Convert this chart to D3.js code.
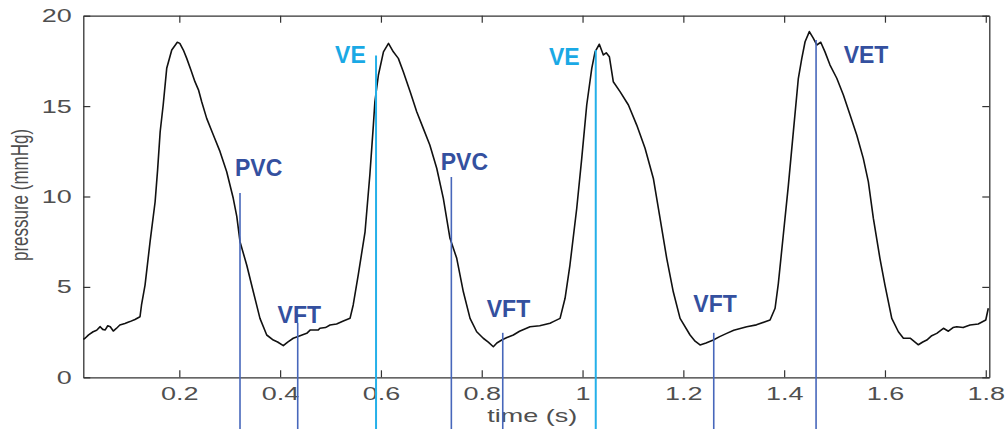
<!DOCTYPE html>
<html>
<head>
<meta charset="utf-8">
<script src="https://cdn.jsdelivr.net/npm/d3@7"></script>
<style>
  html, body { margin: 0; padding: 0; background: #fff; }
  svg { display: block; }
</style>
</head>
<body>
<svg id="chart" width="1006" height="429"></svg>
<script>
// ---- data ----
const times = [0.0095,0.013,0.020,0.029,0.036,0.043,0.048,0.053,0.058,0.063,0.069,0.075,0.082,0.092,0.102,0.112,0.122,0.125,0.132,0.142,0.152,0.157,0.162,0.168,0.175,0.185,0.196,0.201,0.208,0.2147,0.223,0.231,0.238,0.2444,0.2543,0.2675,0.2808,0.294,0.307,0.314,0.3204,0.3337,0.3468,0.360,0.3734,0.3865,0.395,0.4063,0.415,0.426,0.4395,0.4528,0.460,0.4758,0.479,0.490,0.499,0.512,0.5254,0.5387,0.545,0.555,0.5685,0.578,0.585,0.588,0.595,0.605,0.615,0.6246,0.6345,0.6444,0.658,0.671,0.684,0.697,0.7107,0.7238,0.737,0.7504,0.7635,0.7768,0.790,0.803,0.813,0.823,0.830,0.8397,0.850,0.8627,0.875,0.8958,0.915,0.9355,0.942,0.9554,0.9653,0.975,0.9885,0.9984,1.0083,1.0183,1.0248,1.0333,1.0413,1.047,1.0532,1.061,1.0744,1.091,1.1075,1.124,1.1405,1.1538,1.167,1.180,1.1935,1.2133,1.2233,1.2331,1.245,1.2595,1.272,1.286,1.300,1.3258,1.345,1.372,1.382,1.3885,1.3984,1.4083,1.4183,1.428,1.435,1.4415,1.45,1.458,1.4647,1.4726,1.481,1.491,1.5044,1.5175,1.5308,1.544,1.557,1.567,1.577,1.590,1.600,1.6135,1.6266,1.6366,1.65,1.6663,1.675,1.683,1.6928,1.7028,1.716,1.7258,1.735,1.7425,1.755,1.7688,1.785,1.800,1.805];
const pressure = [2.1,2.16,2.35,2.52,2.6,2.8,2.65,2.62,2.85,2.8,2.56,2.7,2.89,2.98,3.08,3.2,3.35,4.0,5.1,7.5,9.71,11.5,13.58,15.06,17.09,18.1,18.53,18.47,18.1,17.64,17.0,16.35,15.9,15.24,14.32,13.4,12.48,11.37,9.9,8.9,7.5,6.21,4.73,3.26,2.34,2.06,1.95,1.75,1.95,2.16,2.3,2.43,2.62,2.62,2.71,2.75,2.89,2.95,3.11,3.26,4.0,5.66,8.05,11.19,13.95,15.24,16.72,18.0,18.47,18.0,17.64,16.9,15.8,14.69,13.77,12.85,11.56,9.9,7.69,6.58,4.73,3.26,2.52,2.16,1.95,1.69,1.9,2.06,2.2,2.34,2.55,2.8,2.85,2.99,3.08,3.26,4.37,6.21,9.35,12.11,15.06,17.09,18.0,18.42,17.83,17.95,17.73,16.35,15.8,15.06,13.95,12.67,11.0,8.79,6.58,4.73,3.26,2.34,2.0,1.79,1.9,2.06,2.25,2.43,2.6,2.8,2.9,3.17,3.82,5.2,7.9,10.6,13.6,16.5,17.64,18.56,19.12,18.75,18.38,18.53,18.0,17.27,16.54,15.61,14.51,13.4,12.11,10.82,8.79,6.58,5.1,3.26,2.52,2.16,2.16,1.8,1.95,2.06,2.3,2.43,2.71,2.55,2.75,2.8,2.75,2.89,2.95,3.17,3.82];

const xTicks = [0.2,0.4,0.6,0.8,1.0,1.2,1.4,1.6,1.8];
const xTickLabels = ["0.2","0.4","0.6","0.8","1","1.2","1.4","1.6","1.8"];
const yTicks = [0,5,10,15,20];
const yTickLabels = ["0","5","10","15","20"];

const markerLabels = ["PVC","VFT","VE","PVC","VFT","VE","VFT","VET"];
const markerTimes  = [0.3204,0.4349,0.5903,0.7397,0.8417,1.0262,1.2603,1.4633];
const markerTops   = [10.19,3.01,17.8,11.08,2.46,18.1,2.46,18.66];
const markerKinds  = ["dark","dark","light","dark","dark","light","dark","dark"];
const labelTimes   = [0.3105,0.395,0.509,0.7187,0.810,0.9335,1.2198,1.518];
const labelValues  = [11.13,3.02,17.37,11.47,3.35,17.27,3.63,17.37];

const xTitle = "time (s)";
const yTitle = "pressure (mmHg)";

// ---- layout ----
const W = 1006, H = 429;
const L = 83.3, R = 989.3, T = 15.7, B = 377.3;
const x = d3.scaleLinear().domain([0.0095, 1.807]).range([L, R]);
const y = d3.scaleLinear().domain([0, 20]).range([B, T]);
const STRETCH = 1.42;
const FONT = "'Liberation Sans', Arial, Helvetica, sans-serif";
const axisColor = "#333";
const textColor = "#4f4f4f";
const colors = {
  dark: { text: "#34509f", line: "#4767bb" },
  light: { text: "#1aa9e5", line: "#25b0e9" }
};

const svg = d3.select("#chart");
svg.append("rect").attr("width", W).attr("height", H).attr("fill", "#fff");

function styleAxis(g) {
  g.select(".domain").attr("stroke", axisColor).attr("stroke-width", 1.3);
  g.selectAll(".tick line").attr("stroke", axisColor).attr("stroke-width", 1.2);
  g.selectAll(".tick text").attr("fill", textColor)
    .style("font-family", FONT).style("font-size", "19px");
}

// bottom axis
const gx = svg.append("g").attr("transform", `translate(0,${B})`)
  .call(d3.axisBottom(x).tickValues(xTicks).tickSizeInner(-7).tickSizeOuter(0)
    .tickPadding(9).tickFormat((d, i) => xTickLabels[i]));
styleAxis(gx);
gx.selectAll(".tick text").attr("transform", `scale(${STRETCH},1)`);

// top axis
const gxt = svg.append("g").attr("transform", `translate(0,${T})`)
  .call(d3.axisTop(x).tickValues(xTicks).tickSizeInner(-7).tickSizeOuter(0).tickFormat(""));
styleAxis(gxt);

// left axis
const gy = svg.append("g").attr("transform", `translate(${L},0)`)
  .call(d3.axisLeft(y).tickValues(yTicks).tickSizeInner(-7).tickSizeOuter(0)
    .tickPadding(11).tickFormat((d, i) => yTickLabels[i]));
styleAxis(gy);
gy.selectAll(".tick text").attr("x", -11.6 / STRETCH).attr("transform", `scale(${STRETCH},1)`);

// right axis
const gyr = svg.append("g").attr("transform", `translate(${R},0)`)
  .call(d3.axisRight(y).tickValues(yTicks).tickSizeInner(-7).tickSizeOuter(0).tickFormat(""));
styleAxis(gyr);

// axis titles
svg.append("text")
  .attr("transform", `translate(${(L + R) / 2 - 4},421.5) scale(${STRETCH},1)`)
  .attr("text-anchor", "middle")
  .attr("fill", textColor)
  .style("font-family", FONT).style("font-size", "19px")
  .text(xTitle);

svg.append("text")
  .attr("transform", `translate(28,195) scale(1.45,1) rotate(-90)`)
  .attr("text-anchor", "middle")
  .attr("fill", textColor)
  .style("font-family", FONT).style("font-size", "17px")
  .text(yTitle);

// curve
const series = times.map((t, i) => ({ t, p: pressure[i] }));
svg.append("path")
  .datum(series)
  .attr("fill", "none")
  .attr("stroke", "#111")
  .attr("stroke-width", 1.6)
  .attr("stroke-linejoin", "round")
  .attr("d", d3.line().x(d => x(d.t)).y(d => y(d.p)));

// markers
const markers = markerLabels.map((label, i) => ({
  label, t: markerTimes[i], top: markerTops[i], kind: markerKinds[i],
  lt: labelTimes[i], lp: labelValues[i]
}));

svg.append("g").selectAll("line").data(markers).join("line")
  .attr("x1", d => x(d.t)).attr("x2", d => x(d.t))
  .attr("y1", d => y(d.top)).attr("y2", H)
  .attr("stroke", d => colors[d.kind].line)
  .attr("stroke-width", d => d.kind === "light" ? 2 : 1.6);

svg.append("g").selectAll("text").data(markers).join("text")
  .attr("x", d => x(d.lt)).attr("y", d => y(d.lp))
  .attr("fill", d => colors[d.kind].text)
  .style("font-family", FONT).style("font-size", "23px").style("font-weight", "bold")
  .text(d => d.label);
</script>
</body>
</html>
